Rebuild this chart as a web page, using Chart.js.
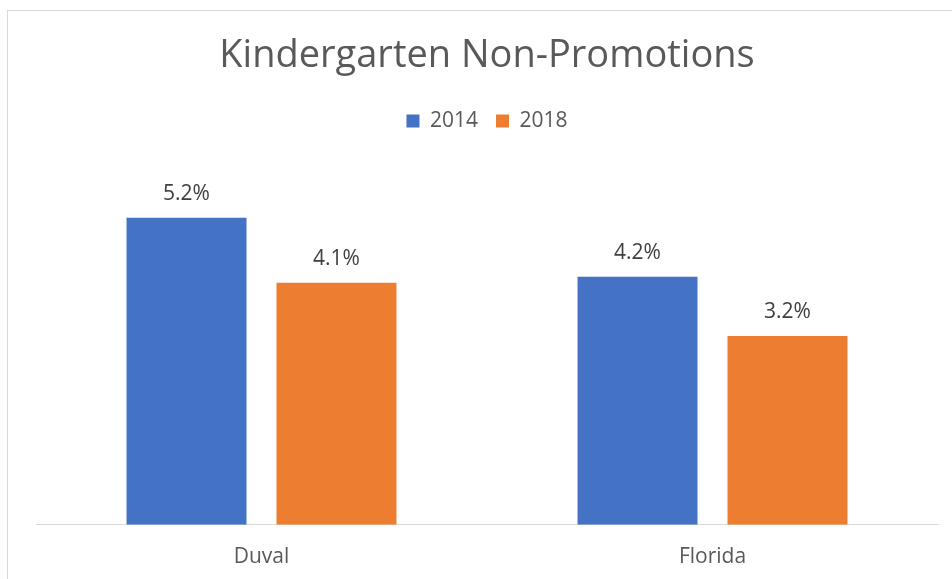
<!DOCTYPE html>
<html>
<head>
<meta charset="utf-8">
<script src="https://cdn.jsdelivr.net/npm/chart.js@4"></script>
<style>
    html, body { margin: 0; padding: 0; background: #fff; overflow: hidden; }
    #wrap {
        position: absolute;
        left: 7px;
        top: 10px;
        width: 960px;
        height: 600px;
        border: 1px solid #d9d9d9;
        box-sizing: border-box;
    }
</style>
</head>
<body>
<div id="wrap"><canvas id="chart"></canvas></div>
<script>
const categories = ['Duval', 'Florida'];
const seriesNames = ['2014', '2018'];
const values2014 = [5.2, 4.2];
const values2018 = [4.1, 3.2];

const FONT = "'Open Sans', 'Noto Sans', sans-serif";
const TEXT = '#595959';

// Draws the percent label above each bar
const barLabels = {
    id: 'barLabels',
    afterDatasetsDraw: function(chart) {
        const ctx = chart.ctx;
        ctx.save();
        ctx.font = '21px ' + FONT;
        ctx.fillStyle = '#404040';
        ctx.textAlign = 'center';
        ctx.textBaseline = 'bottom';
        chart.data.datasets.forEach(function(ds, i) {
            chart.getDatasetMeta(i).data.forEach(function(bar, j) {
                ctx.fillText(ds.data[j].toFixed(1) + '%', bar.x, bar.y - 13);
            });
        });
        ctx.restore();
    }
};

// Leaves extra room between the legend and the bars
const legendGap = {
    id: 'legendGap',
    beforeInit: function(chart) {
        const fit = chart.legend.fit;
        chart.legend.fit = function() {
            fit.bind(chart.legend)();
            this.height += 29;
        };
    }
};

new Chart(document.getElementById('chart'), {
    type: 'bar',
    data: {
        labels: categories,
        datasets: [{
            label: seriesNames[0],
            data: values2014,
            backgroundColor: '#4472C4',
            barPercentage: 0.8,
            categoryPercentage: 0.665
        }, {
            label: seriesNames[1],
            data: values2018,
            backgroundColor: '#ED7D31',
            barPercentage: 0.8,
            categoryPercentage: 0.665
        }]
    },
    options: {
        responsive: true,
        maintainAspectRatio: false,
        animation: false,
        layout: { padding: { left: 28, right: 28, top: 0, bottom: 27 } },
        plugins: {
            title: {
                display: true,
                text: 'Kindergarten Non-Promotions',
                color: TEXT,
                font: { family: FONT, size: 38, weight: 'normal' },
                padding: { top: 22, bottom: 14 }
            },
            legend: {
                position: 'top',
                labels: {
                    color: TEXT,
                    font: { family: FONT, size: 21 },
                    boxWidth: 13,
                    boxHeight: 13,
                    padding: 18
                }
            },
            tooltip: { enabled: false }
        },
        scales: {
            x: {
                grid: { display: false },
                border: { color: '#d9d9d9', width: 1 },
                ticks: { color: TEXT, font: { family: FONT, size: 21 }, padding: 12 }
            },
            y: {
                display: false,
                min: 0,
                max: 6
            }
        }
    },
    plugins: [barLabels, legendGap]
});
</script>
</body>
</html>
